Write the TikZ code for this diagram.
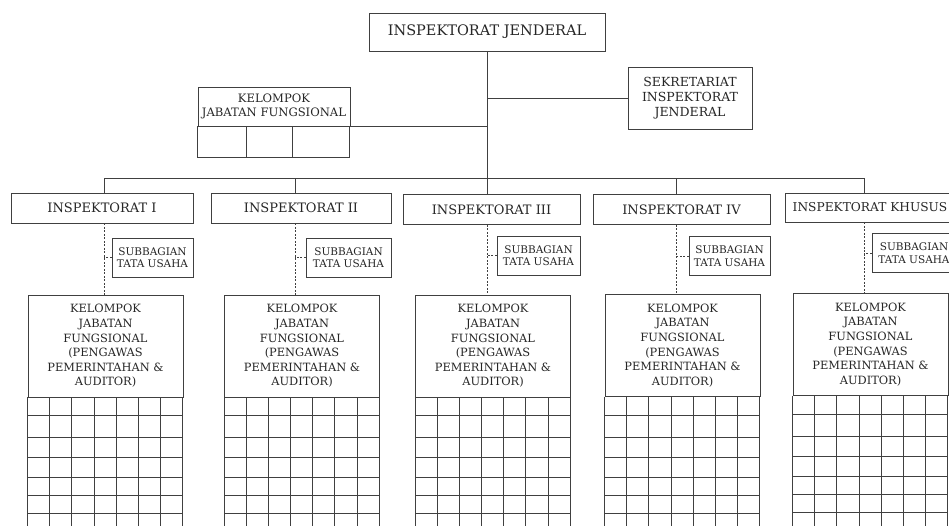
\documentclass[tikz,border=0pt]{standalone}
\usepackage{fontspec}
\setmainfont{DejaVu Serif}
\usepackage{tikz}
\usetikzlibrary{positioning}
\usetikzlibrary{shapes,arrows}

\tikzset{
  unit/.style={draw=black!75, line width=0.8pt, text=black!85, align=center, inner sep=1pt},
  link/.style={draw=black!75, line width=0.8pt},
  dlink/.style={link, dash pattern=on 2pt off 1.5pt},
  insp/.style={unit, minimum height=30, font=\fontsize{13}{15}\selectfont},
  subb/.style={unit, minimum height=39, font=\fontsize{10.5}{12.5}\selectfont},
  kelp/.style={unit, minimum width=155, minimum height=102, font=\fontsize{11.4}{14.6}\selectfont},
}

\begin{document}
\begin{tikzpicture}[x=1pt, y=-1pt]
		\useasboundingbox (0,0) rectangle (949,525);
		\clip (0,0) rectangle (949,525);

		% Inspektorat Jenderal
		\node[unit, minimum width=236, minimum height=38, font=\fontsize{14.5}{16}\selectfont] (ij) at (487,32) {INSPEKTORAT JENDERAL};

		% Sekretariat
		\node[unit, minimum width=124, minimum height=62, font=\fontsize{12.5}{15}\selectfont] (sek) at (690,98) {SEKRETARIAT\\INSPEKTORAT\\JENDERAL};

		% Kelompok jabatan fungsional (top)
		\node[unit, minimum width=152, minimum height=39, font=\fontsize{11.6}{13.5}\selectfont] (kjf) at (274,106.5) {KELOMPOK\\JABATAN FUNGSIONAL};
		\draw[link] (kjf.south west) rectangle ++(152,31);
		\draw[link] ([xshift=49]kjf.south west) -- ++(0,31);
		\draw[link] ([xshift=95]kjf.south west) -- ++(0,31);

		% Spines
		\coordinate (s1) at (104,178);
		\coordinate (s2) at (295,178);
		\coordinate (s3) at (487,178);
		\coordinate (s4) at (676,178);
		\coordinate (s5) at (864,178);

		% Trunk and bus
		\draw[link] (ij.south) -- (s3);
		\draw[link] (sek.west) -- (sek.west -| ij.south);
		\draw[link] (kjf.south east) -- (kjf.south east -| ij.south);
		\draw[link] (s1) -- (s5);

		% Inspektorat
		\node[insp, minimum width=182] (in1) at (102,208) {INSPEKTORAT I};
		\node[insp, minimum width=180] (in2) at (301,208) {INSPEKTORAT II};
		\node[insp, minimum width=177] (in3) at (491.5,209.5) {INSPEKTORAT III};
		\node[insp, minimum width=177] (in4) at (681.5,209.5) {INSPEKTORAT IV};
		\node[insp, minimum width=170, minimum height=29, font=\fontsize{12.2}{14}\selectfont] (in5) at (870,207.5) {INSPEKTORAT KHUSUS};

		% Subbagian tata usaha
		\node[subb, minimum width=81] (sb1) at (152.5,257.5) {SUBBAGIAN\\TATA USAHA};
		\node[subb, minimum width=85] (sb2) at (348.5,257.5) {SUBBAGIAN\\TATA USAHA};
		\node[subb, minimum width=83] (sb3) at (538.5,255.5) {SUBBAGIAN\\TATA USAHA};
		\node[subb, minimum width=81] (sb4) at (729.5,256) {SUBBAGIAN\\TATA USAHA};
		\node[subb, minimum width=84] (sb5) at (914,253) {SUBBAGIAN\\TATA USAHA};

		% Kelompok jabatan fungsional (auditor)
		\node[kelp] (kp1) at (105.5,346) {KELOMPOK\\JABATAN\\FUNGSIONAL\\(PENGAWAS\\PEMERINTAHAN \&\\AUDITOR)};
		\node[kelp] (kp2) at (302,346) {KELOMPOK\\JABATAN\\FUNGSIONAL\\(PENGAWAS\\PEMERINTAHAN \&\\AUDITOR)};
		\node[kelp] (kp3) at (493,346) {KELOMPOK\\JABATAN\\FUNGSIONAL\\(PENGAWAS\\PEMERINTAHAN \&\\AUDITOR)};
		\node[kelp] (kp4) at (682.5,345.5) {KELOMPOK\\JABATAN\\FUNGSIONAL\\(PENGAWAS\\PEMERINTAHAN \&\\AUDITOR)};
		\node[kelp] (kp5) at (870.5,344.5) {KELOMPOK\\JABATAN\\FUNGSIONAL\\(PENGAWAS\\PEMERINTAHAN \&\\AUDITOR)};

		% Connectors and grids
		\foreach \i in {1,...,5} {
			\draw[link] (s\i) -- (s\i |- in\i.north);
			\draw[dlink] (s\i |- in\i.south) -- (s\i |- kp\i.north);
			\draw[dlink] (sb\i.west) -- (sb\i.west -| s\i);
			\begin{scope}[shift={(kp\i.south west)}]
				\draw[link] (0,0) -- (0,140);
				\draw[link] (155,0) -- (155,140);
				\foreach \r in {18,40,60,80,98,116}
					\draw[link] (0,\r) -- (155,\r);
				\foreach \c in {1,...,6}
					\draw[link] (\c*22.14,0) -- (\c*22.14,140);
			\end{scope}
		}
\end{tikzpicture}
\end{document}
